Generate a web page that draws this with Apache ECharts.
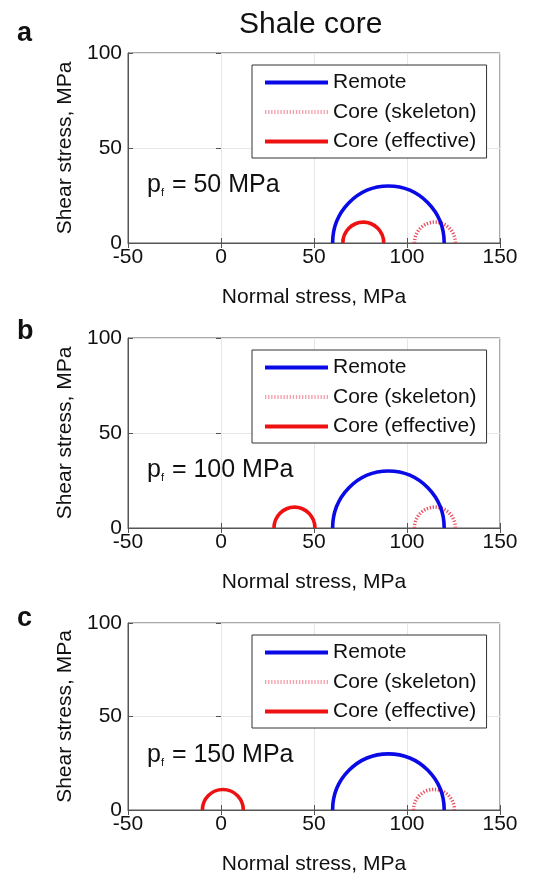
<!DOCTYPE html>
<html>
<head>
<meta charset="utf-8">
<script src="https://cdn.jsdelivr.net/npm/echarts@6/dist/echarts.min.js"></script>
<style>
html,body{margin:0;padding:0;background:#fff;}
#chart{width:536px;height:876px;}
</style>
</head>
<body>
<div id="chart"></div>
<script>
// ---- data ----
const panelLabels = ['a', 'b', 'c'];
const porePressure = [50, 100, 150];            // p_f, MPa
const remoteCenter = [90, 90, 90];              // MPa
const remoteRadius = [30, 30, 30];
const skeletonCenter = [115, 115, 114.5];
const skeletonRadius = [11, 11, 11];
const effectiveCenter = [76.5, 39.5, 1];
const effectiveRadius = [11, 11, 11];
const xTicks = [-50, 150, 50];                  // min, max, interval
const yTicks = [0, 100, 50];
const seriesNames = ['Remote', 'Core (skeleton)', 'Core (effective)'];
const titleText = 'Shale core';
const xName = 'Normal stress, MPa';
const yName = 'Shear stress, MPa';

// ---- styling / layout ----
const FONT = '"Liberation Sans", Arial, Helvetica, sans-serif';
const gridTops = [53, 338, 623];
const colors = { remote: '#0a0ae6', skeleton: '#e8505f', effective: '#ee1111' };

function semicircle(stroke, width, dash) {
  return function (params, api) {
    const c = api.coord([api.value(0), 0]);
    const s = api.size([api.value(1), api.value(1)]);
    const rx = s[0], ry = s[1];
    return {
      type: 'path',
      shape: { pathData: 'M' + (c[0] - rx) + ',' + c[1] + ' A' + rx + ',' + ry + ' 0 0 1 ' + (c[0] + rx) + ',' + c[1] },
      style: { fill: 'none', stroke: stroke, lineWidth: width, lineDash: dash || null }
    };
  };
}

// dotted legend icon
let dotPath = 'path://';
for (let i = 0; i < 21; i++) { dotPath += 'M' + (i * 3) + ',0h1.3v4h-1.3z'; }

const grid = [], xAxis = [], yAxis = [], series = [], legend = [], title = [];

title.push({ text: titleText, left: 239, top: 10, padding: 0,
  textStyle: { fontFamily: FONT, fontSize: 30, fontWeight: 'normal', color: '#111' } });

const labelTops = [20, 318, 605];

for (let i = 0; i < 3; i++) {
  const top = gridTops[i];
  grid.push({ left: 128, width: 372, top: top, height: 190, show: true,
    borderColor: '#555', borderWidth: 1, backgroundColor: '#fff' });
  xAxis.push({ type: 'value', gridIndex: i, min: xTicks[0], max: xTicks[1], interval: xTicks[2],
    position: 'bottom',
    name: xName, nameLocation: 'middle', nameGap: 44,
    nameTextStyle: { fontFamily: FONT, fontSize: 21, color: '#111' },
    axisLine: { show: true, onZero: false, lineStyle: { color: '#555', width: 1 } },
    axisTick: { show: true, inside: true, length: 5, lineStyle: { color: '#555' } },
    axisLabel: { fontFamily: FONT, fontSize: 21, color: '#111', margin: 4 },
    splitLine: { show: true, lineStyle: { color: '#e6e6e6', width: 1 } } });
  xAxis.push({ type: 'value', gridIndex: i, min: xTicks[0], max: xTicks[1], interval: xTicks[2],
    position: 'top',
    axisLine: { show: false },
    axisTick: { show: true, inside: true, length: 5, lineStyle: { color: '#555' } },
    axisLabel: { show: false }, splitLine: { show: false } });
  yAxis.push({ type: 'value', gridIndex: i, min: yTicks[0], max: yTicks[1], interval: yTicks[2],
    position: 'left',
    name: yName, nameLocation: 'middle', nameGap: 52, nameRotate: 90,
    nameTextStyle: { fontFamily: FONT, fontSize: 21, color: '#111' },
    axisLine: { show: true, onZero: false, lineStyle: { color: '#555', width: 1 } },
    axisTick: { show: true, inside: true, length: 5, lineStyle: { color: '#555' } },
    axisLabel: { fontFamily: FONT, fontSize: 21, color: '#111', margin: 6 },
    splitLine: { show: true, lineStyle: { color: '#e6e6e6', width: 1 } } });
  yAxis.push({ type: 'value', gridIndex: i, min: yTicks[0], max: yTicks[1], interval: yTicks[2],
    position: 'right',
    axisLine: { show: false },
    axisTick: { show: true, inside: true, length: 5, lineStyle: { color: '#555' } },
    axisLabel: { show: false }, splitLine: { show: false } });

  const xi = i * 2, yi = i * 2;
  series.push({ type: 'custom', name: seriesNames[1], xAxisIndex: xi, yAxisIndex: yi, z: 2,
    itemStyle: { color: colors.skeleton }, encode: { x: 0, y: 1 },
    renderItem: semicircle(colors.skeleton, 3.5, [1.3, 1.7]),
    data: [[skeletonCenter[i], skeletonRadius[i]]] });
  series.push({ type: 'custom', name: seriesNames[0], xAxisIndex: xi, yAxisIndex: yi, z: 3,
    itemStyle: { color: colors.remote }, encode: { x: 0, y: 1 },
    renderItem: semicircle(colors.remote, 3.6),
    data: [[remoteCenter[i], remoteRadius[i]]] });
  series.push({ type: 'custom', name: seriesNames[2], xAxisIndex: xi, yAxisIndex: yi, z: 3,
    itemStyle: { color: colors.effective }, encode: { x: 0, y: 1 },
    renderItem: semicircle(colors.effective, 3.6),
    data: [[effectiveCenter[i], effectiveRadius[i]]] });

  legend.push({ orient: 'vertical', left: 252, top: top + 12,
    padding: [7, 10, 6, 13], itemGap: 8.5, itemWidth: 63, itemHeight: 4,
    symbolKeepAspect: false, selectedMode: false,
    backgroundColor: '#fff', borderColor: '#333', borderWidth: 1,
    textStyle: { fontFamily: FONT, fontSize: 21, color: '#111', lineHeight: 21 },
    data: [
      { name: seriesNames[0], icon: 'rect', itemStyle: { color: colors.remote } },
      { name: seriesNames[1], icon: dotPath, itemStyle: { color: '#f4a0ac' } },
      { name: seriesNames[2], icon: 'rect', itemStyle: { color: colors.effective } }
    ] });

  title.push({ text: panelLabels[i], left: 17, top: labelTops[i], padding: 0,
    textStyle: { fontFamily: FONT, fontSize: 27, fontWeight: 'bold', color: '#111' } });
  title.push({ text: '{p|p}{s|f}{p| = ' + porePressure[i] + ' MPa}', left: 147, top: top + 120, padding: 0,
    textStyle: { fontWeight: 'normal', rich: {
      p: { fontFamily: FONT, fontSize: 25, fontWeight: 'normal', color: '#111', lineHeight: 25 },
      s: { fontFamily: FONT, fontSize: 11, fontWeight: 'normal', color: '#111', lineHeight: 11, verticalAlign: 'bottom', padding: [0, 1, 0, 0] }
    } } });
}

const chart = echarts.init(document.getElementById('chart'), null, { renderer: 'canvas' });
chart.setOption({ animation: false, backgroundColor: '#fff', title, grid, xAxis, yAxis, legend, series });
</script>
</body>
</html>
